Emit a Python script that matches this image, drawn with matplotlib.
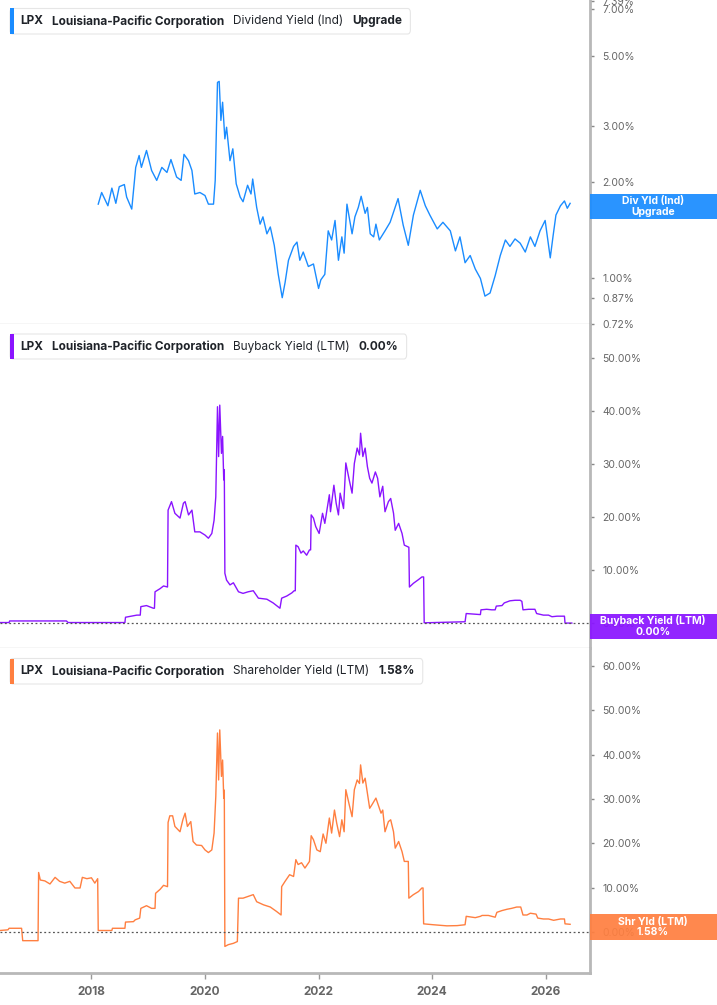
import matplotlib
matplotlib.use("Agg")
import matplotlib.pyplot as plt
from matplotlib.patches import FancyBboxPatch, Rectangle
from matplotlib.ticker import NullLocator

plt.rcParams['font.family'] = ['Inter', 'DejaVu Sans']

W, H = 717, 1005

# Dividend yield (Ind), % - log panel
div_years = [2018.12, 2018.18, 2018.29, 2018.36, 2018.43, 2018.49, 2018.58, 2018.62, 2018.71, 2018.78,
             2018.84, 2018.88, 2018.97, 2019.06, 2019.15, 2019.24, 2019.33, 2019.40, 2019.50, 2019.58,
             2019.63, 2019.71, 2019.77, 2019.82, 2019.91, 2020.00, 2020.06, 2020.15, 2020.18, 2020.22,
             2020.25, 2020.28, 2020.31, 2020.35, 2020.38, 2020.44, 2020.49, 2020.55, 2020.62, 2020.67,
             2020.75, 2020.81, 2020.84, 2020.91, 2020.97, 2021.02, 2021.09, 2021.15, 2021.22, 2021.29,
             2021.36, 2021.41, 2021.47, 2021.56, 2021.62, 2021.67, 2021.73, 2021.82, 2021.91, 2022.00,
             2022.04, 2022.11, 2022.17, 2022.23, 2022.29, 2022.35, 2022.41, 2022.45, 2022.50, 2022.59,
             2022.64, 2022.70, 2022.75, 2022.82, 2022.86, 2022.91, 2022.97, 2023.01, 2023.07, 2023.17,
             2023.26, 2023.40, 2023.49, 2023.58, 2023.67, 2023.79, 2023.88, 2023.96, 2024.09, 2024.19,
             2024.32, 2024.41, 2024.49, 2024.58, 2024.67, 2024.76, 2024.85, 2024.93, 2025.02, 2025.11,
             2025.20, 2025.29, 2025.37, 2025.46, 2025.55, 2025.64, 2025.73, 2025.81, 2025.90, 2025.99,
             2026.08, 2026.13, 2026.18, 2026.26, 2026.33, 2026.38, 2026.43]
div_vals = [1.71, 1.86, 1.69, 1.92, 1.72, 1.94, 1.97, 1.80, 1.65, 2.23,
            2.43, 2.23, 2.52, 2.18, 2.03, 2.23, 2.15, 2.36, 2.08, 2.03,
            2.45, 2.34, 2.18, 1.84, 1.86, 1.82, 1.71, 1.71, 2.03, 4.12,
            4.15, 3.13, 3.57, 2.74, 2.98, 2.34, 2.55, 1.98, 1.80, 1.74,
            1.96, 1.84, 2.05, 1.67, 1.48, 1.56, 1.38, 1.45, 1.27, 1.03,
            0.87, 0.97, 1.14, 1.26, 1.30, 1.14, 1.21, 1.09, 1.11, 0.93,
            0.99, 1.03, 1.41, 1.32, 1.52, 1.14, 1.35, 1.20, 1.71, 1.38,
            1.56, 1.67, 1.81, 1.60, 1.67, 1.38, 1.35, 1.48, 1.32, 1.41,
            1.50, 1.78, 1.47, 1.27, 1.58, 1.89, 1.69, 1.58, 1.43, 1.50,
            1.41, 1.22, 1.35, 1.12, 1.18, 1.07, 1.00, 0.88, 0.90, 1.02,
            1.18, 1.32, 1.26, 1.33, 1.29, 1.21, 1.35, 1.26, 1.41, 1.52,
            1.16, 1.36, 1.58, 1.69, 1.75, 1.66, 1.72]

# Buyback yield (LTM), %
bb_years = [2016.39, 2016.55, 2016.56, 2017.56, 2017.59, 2018.59, 2018.60, 2018.80, 2018.86, 2018.87,
            2018.97, 2019.09, 2019.11, 2019.12, 2019.21, 2019.27, 2019.34, 2019.35, 2019.41, 2019.47,
            2019.56, 2019.62, 2019.65, 2019.71, 2019.77, 2019.82, 2019.91, 2020.00, 2020.06, 2020.12,
            2020.16, 2020.19, 2020.22, 2020.24, 2020.26, 2020.29, 2020.31, 2020.33, 2020.34, 2020.35,
            2020.38, 2020.44, 2020.50, 2020.59, 2020.67, 2020.76, 2020.85, 2020.94, 2021.09, 2021.20,
            2021.32, 2021.35, 2021.44, 2021.53, 2021.57, 2021.59, 2021.60, 2021.64, 2021.69, 2021.73,
            2021.79, 2021.84, 2021.86, 2021.87, 2021.91, 2021.95, 2022.01, 2022.07, 2022.11, 2022.19,
            2022.21, 2022.27, 2022.31, 2022.35, 2022.38, 2022.44, 2022.48, 2022.54, 2022.59, 2022.63,
            2022.68, 2022.72, 2022.74, 2022.78, 2022.82, 2022.86, 2022.90, 2022.94, 2023.00, 2023.04,
            2023.08, 2023.13, 2023.17, 2023.23, 2023.27, 2023.32, 2023.35, 2023.41, 2023.47, 2023.51,
            2023.55, 2023.59, 2023.60, 2023.67, 2023.76, 2023.82, 2023.85, 2023.86, 2024.58, 2024.60,
            2024.85, 2024.86, 2024.96, 2025.05, 2025.11, 2025.13, 2025.23, 2025.27, 2025.37, 2025.46,
            2025.55, 2025.58, 2025.60, 2025.70, 2025.81, 2025.84, 2025.96, 2026.05, 2026.11, 2026.20,
            2026.33, 2026.34, 2026.46]
bb_vals = [0.1, 0.1, 0.4, 0.4, 0.1, 0.1, 1.1, 1.5, 1.5, 3.1,
           3.3, 2.8, 2.8, 5.9, 6.5, 7.0, 6.8, 21.3, 22.9, 20.7,
           19.8, 22.6, 22.9, 20.4, 21.3, 17.2, 17.2, 16.6, 16.0, 16.9,
           19.4, 23.8, 40.8, 31.4, 41.1, 32.0, 35.2, 27.0, 28.9, 9.4,
           8.1, 7.2, 7.6, 5.9, 5.6, 5.9, 6.1, 4.7, 4.5, 3.8,
           2.8, 4.7, 5.1, 5.7, 6.1, 6.1, 14.7, 14.4, 13.2, 13.6,
           12.8, 13.8, 13.8, 20.4, 19.8, 18.2, 16.9, 20.7, 18.8, 24.2,
           21.0, 26.0, 22.6, 20.4, 24.5, 21.6, 30.2, 27.0, 24.5, 30.1,
           33.0, 31.7, 35.8, 31.4, 33.0, 29.5, 27.3, 26.4, 28.5, 27.3,
           23.8, 25.8, 21.0, 22.9, 23.5, 20.7, 17.5, 18.8, 16.9, 14.7,
           14.5, 14.3, 6.8, 7.5, 8.2, 8.7, 8.7, 0.05, 0.25, 1.8,
           1.6, 2.5, 2.6, 2.5, 2.5, 3.2, 3.3, 3.8, 4.2, 4.3,
           4.3, 4.1, 2.5, 2.6, 2.6, 1.8, 1.5, 1.5, 1.2, 1.3,
           1.3, 0.0, 0.0]

# Shareholder yield (LTM), %
shr_years = [2016.39, 2016.53, 2016.55, 2016.77, 2016.79, 2017.06, 2017.07, 2017.10, 2017.18, 2017.27,
             2017.36, 2017.44, 2017.53, 2017.62, 2017.71, 2017.80, 2017.84, 2017.92, 2018.00, 2018.06,
             2018.11, 2018.12, 2018.36, 2018.37, 2018.59, 2018.60, 2018.74, 2018.77, 2018.85, 2018.87,
             2018.97, 2019.06, 2019.12, 2019.13, 2019.21, 2019.27, 2019.34, 2019.35, 2019.38, 2019.43,
             2019.47, 2019.56, 2019.61, 2019.65, 2019.69, 2019.75, 2019.79, 2019.85, 2019.94, 2020.00,
             2020.06, 2020.12, 2020.16, 2020.19, 2020.22, 2020.24, 2020.26, 2020.29, 2020.31, 2020.33,
             2020.34, 2020.35, 2020.41, 2020.50, 2020.57, 2020.59, 2020.67, 2020.76, 2020.85, 2020.91,
             2021.03, 2021.15, 2021.26, 2021.34, 2021.35, 2021.41, 2021.49, 2021.56, 2021.60, 2021.64,
             2021.70, 2021.76, 2021.84, 2021.87, 2021.91, 2021.97, 2022.03, 2022.08, 2022.13, 2022.19,
             2022.23, 2022.28, 2022.32, 2022.37, 2022.41, 2022.45, 2022.48, 2022.54, 2022.59, 2022.63,
             2022.68, 2022.72, 2022.74, 2022.78, 2022.82, 2022.86, 2022.90, 2022.94, 2023.01, 2023.05,
             2023.10, 2023.13, 2023.17, 2023.23, 2023.27, 2023.32, 2023.35, 2023.41, 2023.47, 2023.51,
             2023.58, 2023.59, 2023.67, 2023.76, 2023.82, 2023.84, 2023.85, 2024.02, 2024.26, 2024.44,
             2024.58, 2024.60, 2024.70, 2024.76, 2024.85, 2024.88, 2024.99, 2025.05, 2025.11, 2025.14,
             2025.23, 2025.32, 2025.40, 2025.49, 2025.56, 2025.60, 2025.67, 2025.73, 2025.83, 2025.86,
             2025.96, 2026.05, 2026.14, 2026.26, 2026.33, 2026.34, 2026.43]
shr_vals = [0.3, 0.45, 0.8, 0.8, -2.0, -2.0, 13.4, 11.7, 11.5, 10.8,
            12.3, 11.4, 11.0, 11.4, 9.9, 9.9, 12.3, 12.0, 12.2, 11.0,
            12.0, 0.3, 0.3, 0.8, 0.8, 2.2, 2.3, 2.7, 3.1, 5.3,
            5.9, 5.3, 5.3, 8.7, 9.6, 10.5, 10.2, 24.7, 26.2, 26.2,
            23.8, 22.6, 25.3, 26.8, 23.8, 24.9, 20.4, 19.6, 19.5, 18.5,
            17.9, 18.5, 22.3, 30.5, 44.9, 34.3, 45.6, 35.1, 38.8, 30.2,
            32.0, -3.3, -2.9, -2.6, -2.2, 7.6, 7.6, 8.0, 8.4, 6.8,
            6.1, 5.6, 4.6, 3.8, 10.2, 11.4, 12.9, 12.5, 16.3, 15.2,
            15.6, 14.4, 15.9, 21.7, 20.8, 18.5, 18.1, 22.1, 20.0, 25.7,
            22.3, 27.5, 24.5, 21.5, 25.3, 22.6, 32.1, 28.7, 26.0, 32.1,
            34.3, 33.5, 37.7, 33.6, 34.7, 31.3, 27.9, 28.7, 30.2, 28.7,
            26.8, 27.5, 22.6, 24.9, 25.3, 22.6, 18.9, 20.4, 18.1, 15.9,
            15.9, 7.6, 8.4, 9.1, 9.9, 9.9, 1.8, 1.6, 1.35, 1.4,
            1.6, 3.5, 3.3, 3.2, 3.5, 3.7, 3.7, 3.5, 3.3, 4.4,
            4.8, 5.1, 5.3, 5.6, 5.6, 3.8, 3.8, 4.2, 4.0, 3.1,
            2.9, 2.9, 2.6, 2.9, 2.9, 1.8, 1.7]

year_ticks = [2018, 2020, 2022, 2024, 2026]
div_ticks = [0.72, 0.87, 1.0, 2.0, 3.0, 5.0, 7.0, 7.39]
bb_ticks = [0, 10, 20, 30, 40, 50]
shr_ticks = [0, 10, 20, 30, 40, 50, 60]

BLUE = '#1a8cff'
PURPLE = '#8a14ff'
ORANGE = '#ff7f40'
TXT = '#1f2329'
GRID = '#b8b8b8'

fig = plt.figure(figsize=(W / 100, H / 100), dpi=100)


def fx(x):
    return x / W


def fy(y):
    return 1 - y / H


right = 590
panels = [(0, 324), (324, 648), (648, 973)]
axes = []
for top, bot in panels:
    ax = fig.add_axes([0, fy(bot), fx(right), (bot - top) / H])
    ax.set_xlim(2016.39, 2026.78)
    for s in ['left', 'top']:
        ax.spines[s].set_visible(False)
    ax.spines['right'].set_color(GRID)
    ax.spines['right'].set_linewidth(2)
    ax.spines['bottom'].set_color('#d6d6d6')
    ax.spines['bottom'].set_linewidth(1)
    ax.yaxis.tick_right()
    ax.tick_params(axis='y', direction='out', length=3, width=1, color='#888',
                   labelsize=7.5, labelcolor='#666', pad=6)
    ax.set_xticks(year_ticks)
    ax.tick_params(axis='x', bottom=False, labelbottom=False)
    axes.append(ax)

ax1, ax2, ax3 = axes

# dividend yield (log)
ax1.plot(div_years, div_vals, color=BLUE, lw=1.0)
ax1.set_yscale('log')
ax1.set_ylim(0.7195, 7.47)
ax1.set_yticks(div_ticks)
ax1.set_yticklabels([f"{v:.2f}%" for v in div_ticks])
ax1.yaxis.set_minor_locator(NullLocator())

# buyback yield
ax2.plot(bb_years, bb_vals, color=PURPLE, lw=1.0)
ax2.axhline(0, color='#555', ls=(0, (1.5, 2)), lw=0.9)
ax2.set_ylim(-4.7, 56.4)
ax2.set_yticks(bb_ticks)
ax2.set_yticklabels([f"{v:.2f}%" for v in bb_ticks])

# shareholder yield
ax3.plot(shr_years, shr_vals, color=ORANGE, lw=1.0)
ax3.axhline(0, color='#555', ls=(0, (1.5, 2)), lw=0.9)
ax3.set_ylim(-9.3, 64.1)
ax3.set_yticks(shr_ticks)
ax3.set_yticklabels([f"{v:.2f}%" for v in shr_ticks])
ax3.spines['bottom'].set_color(GRID)
ax3.spines['bottom'].set_linewidth(2)
ax3.tick_params(axis='x', bottom=True, labelbottom=True, length=4, width=1,
                color='#999', labelsize=8.5, labelcolor='#666', pad=5)
for lbl in ax3.get_xticklabels():
    lbl.set_fontweight('bold')

# legend boxes in the top-left of each panel
legends = [
    (8.5, 34, BLUE, [("LPX", 'bold'), ("Louisiana-Pacific Corporation", 'bold'),
                     ("Dividend Yield (Ind)", 'normal'), ("Upgrade", 'bold')]),
    (334, 359, PURPLE, [("LPX", 'bold'), ("Louisiana-Pacific Corporation", 'bold'),
                        ("Buyback Yield (LTM)", 'normal'), ("0.00%", 'bold')]),
    (658.5, 684, ORANGE, [("LPX", 'bold'), ("Louisiana-Pacific Corporation", 'bold'),
                          ("Shareholder Yield (LTM)", 'normal'), ("1.58%", 'bold')]),
]
renderer = fig.canvas.get_renderer()
for top, bot, col, parts in legends:
    yc = (top + bot) / 2
    x = 20
    gaps = [9, 9, 9]
    last = None
    for i, (s, w) in enumerate(parts):
        t = fig.text(fx(x), fy(yc), s, fontsize=8.5, fontweight=w, color=TXT,
                     va='center', ha='left', zorder=6)
        bb = t.get_window_extent(renderer)
        last = bb.x1
        if i < len(gaps):
            x = bb.x1 + gaps[i]
    x_end = last + 8
    box = FancyBboxPatch((fx(10), fy(bot)), fx(x_end - 10), (bot - top) / H,
                         boxstyle='round,pad=0,rounding_size=0.004',
                         transform=fig.transFigure, facecolor='white',
                         edgecolor='#e6e6e6', lw=0.8, zorder=5)
    fig.patches.append(box)
    bar = Rectangle((fx(10), fy(bot)), fx(3.5), (bot - top) / H,
                    transform=fig.transFigure, facecolor=col, edgecolor='none', zorder=5.5)
    fig.patches.append(bar)

# value tags on the right axis, placed at the last value of each series
tags = [
    (ax1, div_vals[-1], BLUE, "Div Yld (Ind)\nUpgrade", 25),
    (ax2, bb_vals[-1], PURPLE, "Buyback Yield (LTM)\n0.00%", 25),
    (ax3, shr_vals[-1], ORANGE, "Shr Yld (LTM)\n1.58%", 26),
]
for ax, v, col, label, h in tags:
    yd = ax.transData.transform((2020, v))[1]
    y_top = H - yd - h / 2 + 3
    rect = Rectangle((fx(right), fy(y_top + h)), fx(W - right), h / H,
                     transform=fig.transFigure, facecolor=col, edgecolor='none',
                     alpha=0.93, zorder=7)
    fig.patches.append(rect)
    fig.text(fx(653), fy(y_top + h / 2), label, color='white', fontsize=7.5,
             fontweight='bold', ha='center', va='center', linespacing=1.05, zorder=8)

fig.savefig('out.png', dpi=100)
